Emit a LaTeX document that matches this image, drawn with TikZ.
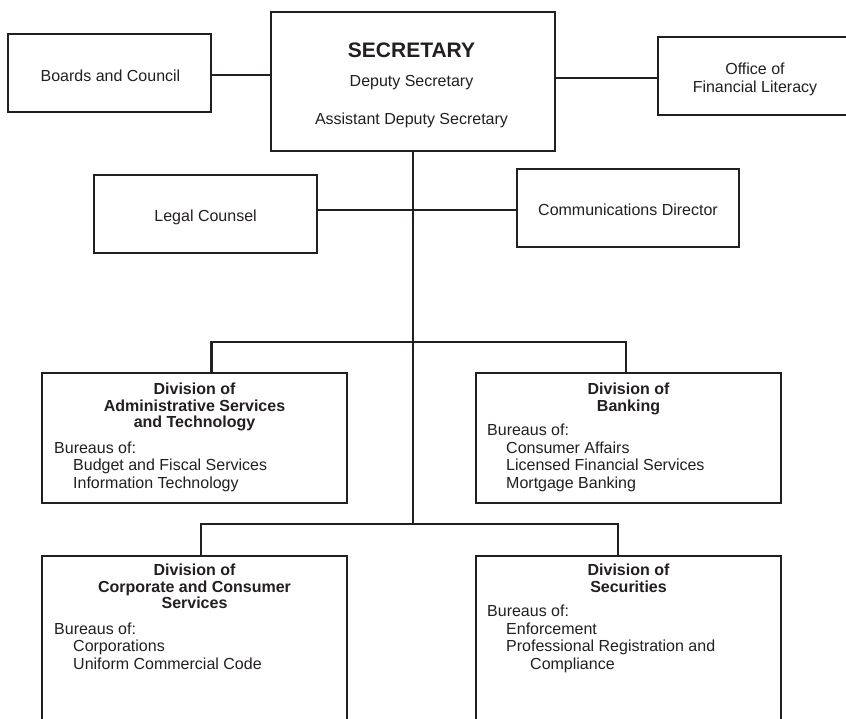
\documentclass[tikz,border=0pt]{standalone}
\usepackage{fontspec}
\setmainfont{Liberation Sans}
\definecolor{ink}{RGB}{35,31,32}
\begin{document}
\begin{tikzpicture}[x=1pt,y=-1pt,
  box/.style={draw=ink,line width=2.6pt,inner sep=0pt},
  conn/.style={draw=ink,line width=2.3pt},
  trunk/.style={draw=ink,line width=2pt},
  txt/.style={anchor=base,inner sep=0pt,text=ink,font=\fontsize{16}{17.5}\selectfont},
  txtl/.style={txt,anchor=base west},
  ttl/.style={txt,font=\fontsize{16}{17.5}\selectfont\bfseries}]
\useasboundingbox (0,0) rectangle (846,718);
\fill[white] (0,0) rectangle (846,718);
% boxes
\node[box,minimum width=203pt,minimum height=78pt] (bc) at (109.5,73) {};
\node[box,minimum width=284pt,minimum height=139pt] (sec) at (413,81.5) {};
\node[box,minimum width=194pt,minimum height=78pt] (ofl) at (755,76) {};
\node[box,minimum width=223pt,minimum height=78pt] (lc) at (205.5,214) {};
\node[box,minimum width=222pt,minimum height=78pt] (cd) at (628,208) {};
\node[box,minimum width=305pt,minimum height=130pt] (adm) at (194.5,438) {};
\node[box,minimum width=305pt,minimum height=130pt] (bank) at (628.5,438) {};
\node[box,minimum width=305pt,minimum height=210pt] (corp) at (194.5,661) {};
\node[box,minimum width=305pt,minimum height=210pt] (secu) at (628.5,661) {};
% top texts
\node[txt,font=\fontsize{21}{24}\selectfont\bfseries] (tsec) at (411.5,57.5) {SECRETARY};
\node[txt] (tdep) at (411.5,86) {Deputy Secretary};
\node[txt] (tads) at (411.5,124) {Assistant Deputy Secretary};
\node[txt] (tbc) at (110.5,81) {Boards and Council};
\node[txt] (tof1) at (755,74) {Office of};
\node[txt] (tof2) at (755,92.7) {Financial Literacy};
\node[txt] (tlc) at (205.6,221.7) {Legal Counsel};
\node[txt] (tcd) at (628,215) {Communications Director};
% admin
\node[ttl] (ta1) at (194.5,394.5) {Division of};
\node[ttl] (ta2) at (194.5,411) {Administrative Services};
\node[ttl] (ta3) at (194.5,427.5) {and Technology};
\node[txtl] (ta4) at (54,453) {Bureaus of:};
\node[txtl] (ta5) at (73,470.5) {Budget and Fiscal Services};
\node[txtl] (ta6) at (73,488) {Information Technology};
% banking
\node[ttl] (tb1) at (628.5,394.5) {Division of};
\node[ttl] (tb2) at (628.5,411) {Banking};
\node[txtl] (tb3) at (487,435.5) {Bureaus of:};
\node[txtl] (tb4) at (506,453) {Consumer Affairs};
\node[txtl] (tb5) at (506,470.5) {Licensed Financial Services};
\node[txtl] (tb6) at (506,488) {Mortgage Banking};
% corporate
\node[ttl] (tc1) at (194.5,575.5) {Division of};
\node[ttl] (tc2) at (194.5,592) {Corporate and Consumer};
\node[ttl] (tc3) at (194.5,608.5) {Services};
\node[txtl] (tc4) at (54,634) {Bureaus of:};
\node[txtl] (tc5) at (73,651.5) {Corporations};
\node[txtl] (tc6) at (73,669) {Uniform Commercial Code};
% securities
\node[ttl] (td1) at (628.5,575.5) {Division of};
\node[ttl] (td2) at (628.5,592) {Securities};
\node[txtl] (td3) at (487,616.5) {Bureaus of:};
\node[txtl] (td4) at (506,634) {Enforcement};
\node[txtl] (td5) at (506,651.5) {Professional Registration and};
\node[txtl] (td6) at (530,669) {Compliance};
% connectors
\draw[conn] ([yshift=-2pt]bc.east) -- ([yshift=-2pt]bc.east -| sec.west);
\draw[conn] ([yshift=-2pt]ofl.west) -- ([yshift=-2pt]ofl.west -| sec.east);
\coordinate (b2) at (413,524);
\draw[trunk] (sec.south) -- (b2);
\coordinate (j1) at (413,210);
\draw[conn] (lc.east |- j1) -- (cd.west |- j1);
\coordinate (b1l) at (211.5,342);
\coordinate (b1r) at (626,342);
\draw[conn] (b1l |- adm.north) -- (b1l) -- (b1r) -- (b1r |- bank.north);
\coordinate (b2l) at (201,524);
\coordinate (b2r) at (618,524);
\draw[conn] (b2l |- corp.north) -- (b2l) -- (b2r) -- (b2r |- secu.north);
\end{tikzpicture}
\end{document}
